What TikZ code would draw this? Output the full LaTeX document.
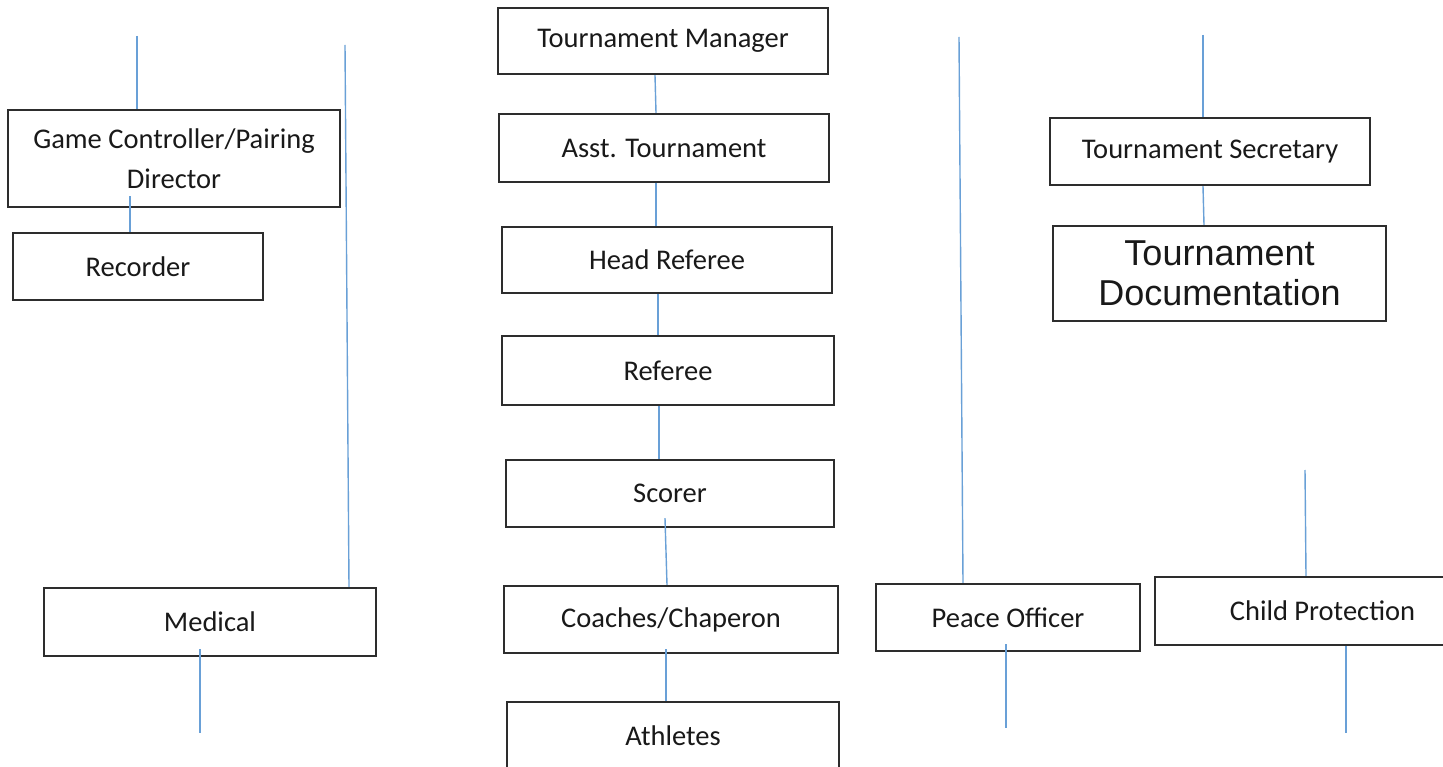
\documentclass[tikz,border=0pt]{standalone}
\usepackage{fontspec}
\setmainfont{Carlito}
\newfontfamily\arialf{Liberation Sans}
\definecolor{boxline}{RGB}{45,45,45}
\definecolor{conncol}{RGB}{105,160,215}
\tikzset{
  box/.style={draw=boxline, line width=2.4pt, rectangle, inner sep=0pt, align=center,
    font=\fontsize{28.5}{40}\selectfont, text=black!90},
  conn/.style={draw=conncol, line width=1.4pt}
}
\begin{document}
\begin{tikzpicture}[x=1pt,y=-1pt]
\useasboundingbox (0,0) rectangle (1443,767);
\clip (0,0) rectangle (1443,767);
\fill[white] (0,0) rectangle (1443,767);
% centre column
\node[box, minimum width=330pt, minimum height=66pt] (tm) at (663,41) {Tournament Manager};
\node[box, minimum width=330pt, minimum height=68pt] (asst) at (664,148) {Asst. Tournament};
\node[box, minimum width=330pt, minimum height=66pt] (hr) at (667,260) {Head Referee};
\node[box, minimum width=332pt, minimum height=69pt] (ref) at (668,370.5) {Referee};
\node[box, minimum width=328pt, minimum height=67pt] (scorer) at (670,493.5) {Scorer};
\node[box, minimum width=334pt, minimum height=67pt] (coach) at (671,619.5) {Coaches/Chaperon};
\node[box, minimum width=332pt, minimum height=68pt] (ath) at (673,736) {Athletes};
% left column
\node[box, minimum width=332pt, minimum height=97pt] (gc) at (174,158.5) {Game Controller/Pairing\\Director};
\node[box, minimum width=250pt, minimum height=67pt] (rec) at (138,266.5) {Recorder};
\node[box, minimum width=332pt, minimum height=68pt] (med) at (210,622) {Medical};
% right side
\node[box, minimum width=264pt, minimum height=67pt] (po) at (1008,617.5) {Peace Officer};
\node[box, minimum width=335pt, minimum height=68pt] (cp) at (1322.5,611) {Child Protection};
\node[box, minimum width=320pt, minimum height=67pt] (sec) at (1210,151.5) {Tournament Secretary};
\node[box, minimum width=333pt, minimum height=95pt, font=\arialf\fontsize{36}{40}\selectfont] (doc) at (1219.5,273.5) {Tournament\\Documentation};
% free ends
\coordinate (gctop) at (137,36);
\coordinate (lefttop) at (345,45);
\coordinate (medend) at (200,733);
\coordinate (righttop) at (959,37);
\coordinate (poend) at (1006,728);
\coordinate (sectop) at (1203,35);
\coordinate (cptop) at (1305,470);
\coordinate (cpend) at (1346,733);
% connectors
\draw[conn] (gctop) -- ([xshift=-37pt]gc.north);
\draw[conn] ([xshift=-44pt,yshift=12pt]gc.south) -- ([xshift=-8pt]rec.north);
\draw[conn] (lefttop) -- ([xshift=139pt]med.north);
\draw[conn] ([xshift=-10pt,yshift=8pt]med.south) -- (medend);
\draw[conn] ([xshift=-8pt]tm.south) -- ([xshift=-8pt]asst.north);
\draw[conn] ([xshift=-8pt]asst.south) -- ([xshift=-11pt]hr.north);
\draw[conn] ([xshift=-9pt]hr.south) -- ([xshift=-10pt]ref.north);
\draw[conn] ([xshift=-9pt]ref.south) -- ([xshift=-11pt]scorer.north);
\draw[conn] ([xshift=-5pt,yshift=10pt]scorer.south) -- ([xshift=-4pt]coach.north);
\draw[conn] ([xshift=-5pt,yshift=5pt]coach.south) -- ([xshift=-7pt]ath.north);
\draw[conn] (righttop) -- ([xshift=-45pt]po.north);
\draw[conn] ([xshift=-2pt,yshift=8pt]po.south) -- (poend);
\draw[conn] (sectop) -- ([xshift=-7pt]sec.north);
\draw[conn] ([xshift=-7pt]sec.south) -- ([xshift=-15.5pt]doc.north);
\draw[conn] (cptop) -- ([xshift=-16.5pt]cp.north);
\draw[conn] ([xshift=23.5pt]cp.south) -- (cpend);
\end{tikzpicture}
\end{document}
